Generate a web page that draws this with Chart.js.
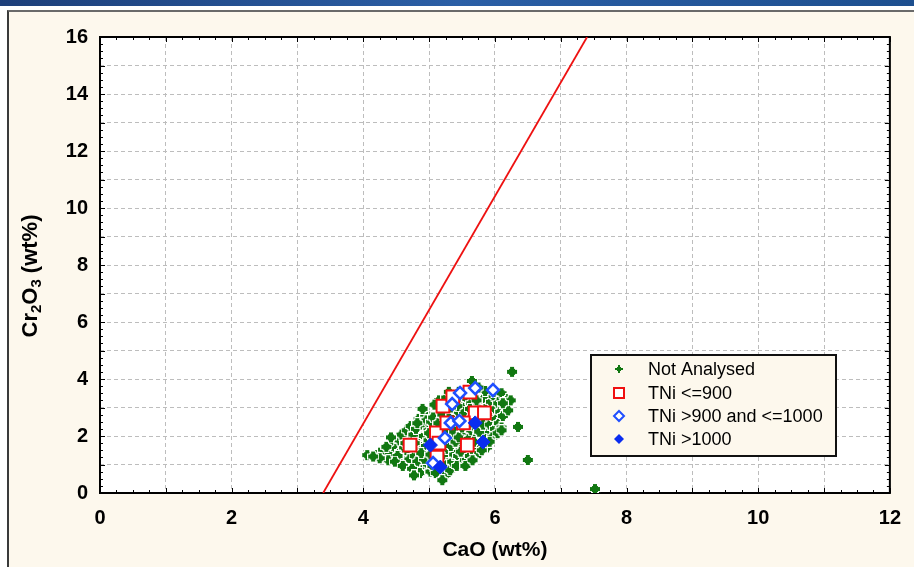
<!DOCTYPE html>
<html>
<head>
<meta charset="utf-8">
<script src="https://cdn.jsdelivr.net/npm/chart.js@4.4.1/dist/chart.umd.min.js"></script>
<style>
  body { margin: 0; background: #fff; overflow: hidden; }
  #bar { position: absolute; left: 0; top: 0; width: 914px; height: 6px; background: linear-gradient(to right, #1d3f7a, #2b5fa6 50%, #1d4f8f); }
  #panel { position: absolute; left: 7px; top: 10px; width: 920px; height: 570px; background: #fdf8ed; border-left: 2px solid #3a3a3a; border-top: 2px solid #6a6a6a; }
  #mycanvas { position: absolute; left: 0; top: 0; }
</style>
</head>
<body>
<div id="bar"></div>
<div id="panel"></div>
<canvas id="mycanvas" width="914" height="567"></canvas>
<script>
// axis ranges / labels
var xTicks = [0, 2, 4, 6, 8, 10, 12];
var yTicks = [0, 2, 4, 6, 8, 10, 12, 14, 16];
var xTitle = "CaO (wt%)";
var legendLabels = ["Not Analysed", "TNi <=900", "TNi >900 and <=1000", "TNi >1000"];

// [CaO, Cr2O3]
var notAnalysed = [
	[4.06,1.33],[4.21,1.33],[4.33,1.26],[4.30,1.52],[4.40,1.40],[4.38,1.15],[4.25,1.22],[4.45,1.72],
	[4.50,1.55],[4.56,1.44],[4.60,1.20],[4.52,1.30],[4.65,1.05],[4.62,1.60],[4.55,1.85],[4.68,1.90],
	[4.70,1.40],[4.58,2.05],[4.66,2.20],[4.48,1.10],[4.64,1.75],[4.70,1.18],[4.60,0.95],[4.72,2.35],
	[4.75,1.60],[4.78,1.30],[4.80,0.90],[4.82,1.10],[4.85,1.50],[4.88,1.80],[4.76,2.05],[4.80,2.25],
	[4.90,2.40],[4.92,2.00],[4.95,1.65],[4.97,1.30],[4.90,0.80],[4.86,0.70],[4.98,1.00],[4.84,2.60],
	[4.94,2.75],[4.99,2.20],[4.78,1.75],[4.92,1.20],[4.88,1.40],[4.96,2.55],[4.82,2.45],[4.74,0.85],
	[4.99,1.85],[4.35,1.62],[4.15,1.28],[4.42,1.95],[4.77,0.62],[4.90,2.95],
	[5.02,0.75],[5.05,0.95],[5.08,1.20],[5.10,1.45],[5.04,1.60],[5.06,1.95],[5.10,2.30],[5.03,2.50],
	[5.08,2.80],[5.12,3.00],[5.15,2.65],[5.18,2.35],[5.20,2.05],[5.16,1.70],[5.22,1.40],[5.14,1.10],
	[5.20,0.85],[5.25,0.63],[5.10,0.70],[5.24,1.00],[5.26,1.25],[5.28,1.55],[5.25,1.85],[5.28,2.20],
	[5.22,2.55],[5.27,2.85],[5.24,3.15],[5.15,3.25],[5.30,2.60],[5.00,2.10],[5.12,1.85],[5.06,2.65],
	[5.18,1.00],[5.02,1.35],[5.29,1.05],[5.14,2.45],[5.20,2.75],[5.08,3.10],[5.26,3.35],[5.30,1.90],
	[5.32,0.80],[5.35,1.10],[5.38,1.35],[5.33,1.65],[5.36,2.00],[5.40,2.30],[5.34,2.70],[5.38,2.95],
	[5.42,3.20],[5.36,3.40],[5.45,3.55],[5.48,3.25],[5.44,2.85],[5.50,2.60],[5.46,2.15],[5.52,1.90],
	[5.48,1.60],[5.44,1.30],[5.50,1.05],[5.42,0.95],[5.55,1.40],[5.58,1.75],[5.54,2.05],[5.56,2.40],
	[5.58,2.70],[5.54,3.00],[5.58,3.30],[5.52,3.50],[5.40,1.80],[5.46,2.45],[5.35,2.45],[5.57,1.20],
	[5.53,2.85],[5.43,3.05],[5.48,1.45],[5.38,2.15],[5.33,3.00],[5.55,0.95],[5.45,1.95],[5.50,2.30],
	[5.62,1.30],[5.65,1.55],[5.60,1.90],[5.64,2.20],[5.62,2.55],[5.66,2.85],[5.64,3.15],[5.65,3.93],
	[5.68,3.40],[5.70,3.00],[5.72,2.60],[5.70,2.30],[5.74,2.00],[5.72,1.65],[5.76,1.40],[5.78,2.45],
	[5.80,2.75],[5.78,3.10],[5.82,3.30],[5.85,3.58],[5.84,2.95],[5.86,2.50],[5.88,2.20],[5.84,1.90],
	[5.88,1.60],[5.80,1.50],[5.76,2.15],[5.68,1.80],[5.62,2.95],[5.74,2.80],[5.90,3.05],[5.66,1.15],
	[5.82,2.40],[5.72,3.25],[5.60,2.40],[5.75,3.70],[5.30,3.55],[5.20,0.45],
	[5.92,2.40],[5.95,2.75],[5.94,3.20],[5.98,3.40],[6.00,2.95],[6.02,2.60],[6.00,2.25],[5.96,1.95],
	[6.05,3.15],[6.08,2.85],[6.06,2.45],[6.10,3.30],[6.12,2.70],[6.15,3.05],[6.18,3.20],[6.20,2.90],
	[6.04,2.10],[5.92,1.80],[6.10,2.30],[5.98,3.55],[6.10,3.50],[6.20,3.30],[6.24,3.25],[6.12,3.15],
	[6.10,2.20],[6.26,4.25],[6.35,2.32],[6.50,1.16],[7.52,0.14]
];
var tniLow = [[4.71,1.68],[5.11,2.11],[5.15,1.75],[5.21,3.05],[5.36,3.37],[5.62,3.54],[5.70,2.81],
	[5.84,2.81],[5.52,2.46],[5.58,1.68],[5.12,1.26],[5.27,2.46]];
var tniMid = [[5.47,3.51],[5.70,3.68],[5.97,3.61],[5.35,3.12],[5.33,2.46],[5.46,2.53],[5.24,1.93],[5.06,1.05]];
var tniHigh = [[5.70,2.46],[5.17,0.91],[5.82,1.79],[5.02,1.68]];
// red discriminant line end points
var redLine = [[3.39,0],[7.40,16]];

function toXY(arr) {
	var out = [];
	for (var i in arr) out.push({x: arr[i][0], y: arr[i][1]});
	return out;
}

// green plus marker (white edge like the original)
function plusShape(g, o, s, a) {
	g.fillRect(o + a, o, s - 2 * a, s);
	g.fillRect(o, o + a, s, s - 2 * a);
	g.fillRect(o + a - 1, o + a - 1, s - 2 * a + 2, s - 2 * a + 2);
}
function plusMarker(size, col, edge) {
	var c = document.createElement('canvas');
	c.width = size + 2 * edge; c.height = size + 2 * edge;
	var g = c.getContext('2d');
	if (edge) {
		g.fillStyle = '#fff';
		plusShape(g, 0, size + 2 * edge, 3);
	}
	g.fillStyle = col;
	plusShape(g, edge, size, 3);
	return c;
}
var green = '#117711';
var greenPlus = plusMarker(10, green, 1);
var fontFam = 'Arial, "Liberation Sans", sans-serif';

var framePlugin = {
	id: 'frame',
	beforeDraw: function(chart) {
		var ctx = chart.ctx, a = chart.chartArea;
		ctx.save();
		ctx.fillStyle = '#fff';
		ctx.fillRect(a.left, a.top, a.right - a.left, a.bottom - a.top);
		ctx.restore();
	},
	beforeDatasetsDraw: function(chart) {
		var ctx = chart.ctx, a = chart.chartArea;
		var xs = chart.scales.x, ys = chart.scales.y;
		ctx.save();
		ctx.strokeStyle = '#000';
		ctx.lineWidth = 1;
		for (var v = 0; v <= 12.001; v += 0.25) {
			var px = Math.round(xs.getPixelForValue(v)) + 0.5;
			var len = (Math.abs(v - Math.round(v)) < 0.01) ? 5 : 3;
			ctx.beginPath();
			ctx.moveTo(px, a.bottom); ctx.lineTo(px, a.bottom - len);
			ctx.moveTo(px, a.top); ctx.lineTo(px, a.top + len);
			ctx.stroke();
		}
		for (var w = 0; w <= 16.001; w += 0.25) {
			var py = Math.round(ys.getPixelForValue(w)) + 0.5;
			var l2 = (Math.abs(w - Math.round(w)) < 0.01) ? 5 : 3;
			ctx.beginPath();
			ctx.moveTo(a.left, py); ctx.lineTo(a.left + l2, py);
			ctx.moveTo(a.right, py); ctx.lineTo(a.right - l2, py);
			ctx.stroke();
		}
		ctx.lineWidth = 2;
		ctx.strokeRect(a.left, a.top, a.right - a.left, a.bottom - a.top);
		ctx.restore();
	},
	afterDraw: function(chart) {
		var ctx = chart.ctx, a = chart.chartArea;
		ctx.save();
		// x title
		ctx.fillStyle = '#000';
		ctx.font = 'bold 21px ' + fontFam;
		ctx.textAlign = 'center';
		ctx.textBaseline = 'middle';
		ctx.fillText(xTitle, (a.left + a.right) / 2, 550);
		// y title with subscripts
		ctx.translate(37, 276);
		ctx.rotate(-Math.PI / 2);
		var parts = [["Cr", 0], ["2", 1], ["O", 0], ["3", 1], [" (wt%)", 0]];
		var big = 'bold 22px ' + fontFam, small = 'bold 15px ' + fontFam;
		var tot = 0;
		for (var i = 0; i < parts.length; i++) {
			ctx.font = parts[i][1] ? small : big;
			tot += ctx.measureText(parts[i][0]).width;
		}
		var cx = -tot / 2;
		ctx.textAlign = 'left';
		ctx.textBaseline = 'alphabetic';
		for (var j = 0; j < parts.length; j++) {
			ctx.font = parts[j][1] ? small : big;
			ctx.fillText(parts[j][0], cx, parts[j][1] ? 4 : 0);
			cx += ctx.measureText(parts[j][0]).width;
		}
		ctx.restore();

		// legend box
		ctx.save();
		var lx = 591, ly = 355, lw = 245, lh = 101;
		ctx.fillStyle = '#fdf8ed';
		ctx.fillRect(lx, ly, lw, lh);
		ctx.strokeStyle = '#111';
		ctx.lineWidth = 2;
		ctx.strokeRect(lx, ly, lw, lh);
		ctx.font = '18px ' + fontFam;
		ctx.textBaseline = 'middle';
		ctx.textAlign = 'left';
		var rows = [369, 393, 416, 439];
		var mx = 619;
		for (var k = 0; k < legendLabels.length; k++) {
			var ry = rows[k];
			if (k === 0) {
				ctx.drawImage(plusMarker(8, green, 0), mx - 4, ry - 4);
			} else if (k === 1) {
				ctx.fillStyle = '#fff';
				ctx.fillRect(mx - 5, ry - 5, 10, 10);
				ctx.strokeStyle = '#f01010';
				ctx.lineWidth = 2;
				ctx.strokeRect(mx - 5, ry - 5, 10, 10);
			} else {
				ctx.beginPath();
				ctx.moveTo(mx, ry - 5); ctx.lineTo(mx + 5, ry); ctx.lineTo(mx, ry + 5); ctx.lineTo(mx - 5, ry); ctx.closePath();
				if (k === 2) {
					ctx.fillStyle = '#fff'; ctx.fill();
					ctx.strokeStyle = '#1f4fff'; ctx.lineWidth = 2; ctx.stroke();
				} else {
					ctx.fillStyle = '#0a2cf0'; ctx.fill();
				}
			}
			ctx.fillStyle = '#000';
			ctx.fillText(legendLabels[k], 648, ry + 1);
		}
		ctx.restore();
	}
};

var tickFont = {size: 20, weight: 'bold', family: fontFam};

var chartdata = {
	datasets: [
		{
			label: legendLabels[0],
			data: toXY(notAnalysed),
			pointStyle: greenPlus,
			backgroundColor: green,
			borderColor: green,
			order: 4
		},
		{
			label: legendLabels[1],
			data: toXY(tniLow),
			pointStyle: 'rect',
			pointRadius: 9,
			backgroundColor: '#fff',
			borderColor: '#f01010',
			borderWidth: 2,
			order: 3
		},
		{
			label: legendLabels[2],
			data: toXY(tniMid),
			pointStyle: 'rectRot',
			pointRadius: 6,
			backgroundColor: '#fff',
			borderColor: '#1f4fff',
			borderWidth: 2.5,
			order: 2
		},
		{
			label: legendLabels[3],
			data: toXY(tniHigh),
			pointStyle: 'rectRot',
			pointRadius: 7,
			backgroundColor: '#0a2cf0',
			borderColor: '#0a2cf0',
			borderWidth: 1,
			order: 1
		},
		{
			label: 'line',
			data: toXY(redLine),
			showLine: true,
			pointRadius: 0,
			borderColor: '#ee1111',
			borderWidth: 1.8,
			order: 0
		}
	]
};

var options = {
	responsive: false,
	animation: false,
	events: [],
	layout: { padding: { top: 37, right: 24, left: 0, bottom: 0 } },
	plugins: {
		legend: { display: false },
		tooltip: { enabled: false }
	},
	scales: {
		x: {
			type: 'linear',
			min: xTicks[0],
			max: xTicks[xTicks.length - 1],
			afterFit: function(s) { s.height = 74; },
			grid: { color: '#bdbdbd', drawTicks: false },
			border: { display: false, dash: [4, 3] },
			ticks: {
				stepSize: 1,
				autoSkip: false,
				maxRotation: 0,
				padding: 13,
				color: '#000',
				font: tickFont,
				callback: function(v) { return xTicks.indexOf(v) >= 0 ? v : ''; }
			}
		},
		y: {
			type: 'linear',
			min: yTicks[0],
			max: yTicks[yTicks.length - 1],
			afterFit: function(s) { s.width = 100; },
			grid: { color: '#bdbdbd', drawTicks: false },
			border: { display: false, dash: [4, 3] },
			ticks: {
				stepSize: 1,
				autoSkip: false,
				padding: 12,
				color: '#000',
				font: tickFont,
				callback: function(v) { return yTicks.indexOf(v) >= 0 ? v : ''; }
			}
		}
	}
};

var ctx = document.getElementById('mycanvas');
var scatterChart = new Chart(ctx, {
	type: 'scatter',
	data: chartdata,
	options: options,
	plugins: [framePlugin]
});
</script>
</body>
</html>
